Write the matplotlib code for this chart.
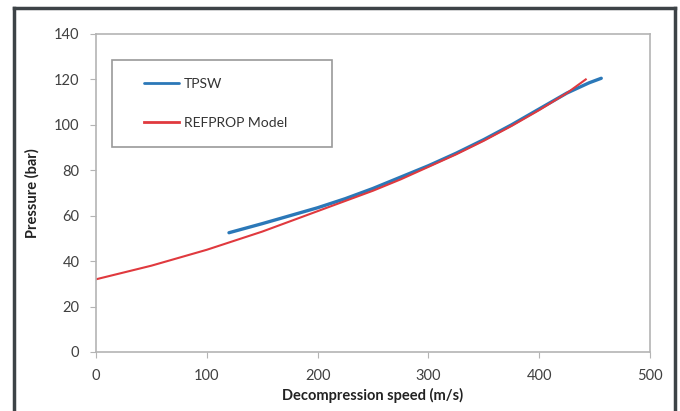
import matplotlib
matplotlib.use("Agg")
import matplotlib.pyplot as plt
from matplotlib.lines import Line2D
from matplotlib.legend_handler import HandlerLine2D

plt.rcParams['font.family'] = ['Lato', 'DejaVu Sans']

# REFPROP model curve
refprop_speed = [0, 25, 50, 75, 100, 125, 150, 175, 200, 225, 250, 275, 300,
                 325, 350, 375, 400, 425, 442]
refprop_pres = [32, 35, 38, 41.5, 45, 49, 53, 57.5, 62, 66.5, 71, 76, 81.5,
                87, 93, 99.5, 106.5, 114, 120]

# TPSW measurement
tpsw_speed = [120, 150, 175, 200, 225, 250, 275, 300, 325, 350, 375, 400, 425, 445, 456]
tpsw_pres = [52.5, 56.5, 60, 63.5, 67.5, 72, 77, 82, 87.5, 93.5, 100, 107, 114, 118.5, 120.5]

xticks = [0, 100, 200, 300, 400, 500]
yticks = [0, 20, 40, 60, 80, 100, 120, 140]

fig = plt.figure(figsize=(6.8, 4.11), dpi=100)
ax = fig.add_axes([0.1412, 0.1436, 0.8147, 0.7737])

ax.plot(tpsw_speed, tpsw_pres, color='#2b78b8', lw=2.4, label='TPSW', solid_capstyle='round')
ax.plot(refprop_speed, refprop_pres, color='#e0393e', lw=1.5, label='REFPROP Model')

ax.set_xlim(0, 500)
ax.set_ylim(0, 140)
ax.set_xticks(xticks)
ax.set_yticks(yticks)
for s in ax.spines.values():
    s.set_color('#b4b4b4')
    s.set_linewidth(1.2)
ax.tick_params(direction='out', length=4, color='#b4b4b4', labelsize=10.5,
               labelcolor='#404040', pad=8)

ax.set_xlabel('Decompression speed (m/s)', fontsize=10.5, fontweight='bold',
              color='#222222', labelpad=4)
ax.set_ylabel('Pressure (bar)', fontsize=10.5, fontweight='bold',
              color='#222222', labelpad=10)

leg = ax.legend(loc='upper left', bbox_to_anchor=(0.0289, 0.660, 0.397, 0.258),
                mode='expand', borderaxespad=0, fontsize=10, frameon=True,
                fancybox=False, borderpad=1.3, labelspacing=1.95, handlelength=3.5,
                handletextpad=0.4,
                handler_map={Line2D: HandlerLine2D(xpad=1.0)})
leg.get_frame().set_edgecolor('#808080')
leg.get_frame().set_linewidth(1.2)
for h in leg.get_lines():
    h.set_linewidth(2.0)
for t in leg.get_texts():
    t.set_color('#333333')

# outer picture frame
fig.add_artist(Line2D([14/680, 14/680], [0, 1 - 8/411], transform=fig.transFigure,
                      color='#3d4347', lw=2.5))
fig.add_artist(Line2D([14/680, 675/680], [1 - 8/411, 1 - 8/411], transform=fig.transFigure,
                      color='#3d4347', lw=2.5))
fig.add_artist(Line2D([675/680, 675/680], [0, 1 - 8/411], transform=fig.transFigure,
                      color='#3d4347', lw=2.5))

fig.savefig('out.png', dpi=100)
